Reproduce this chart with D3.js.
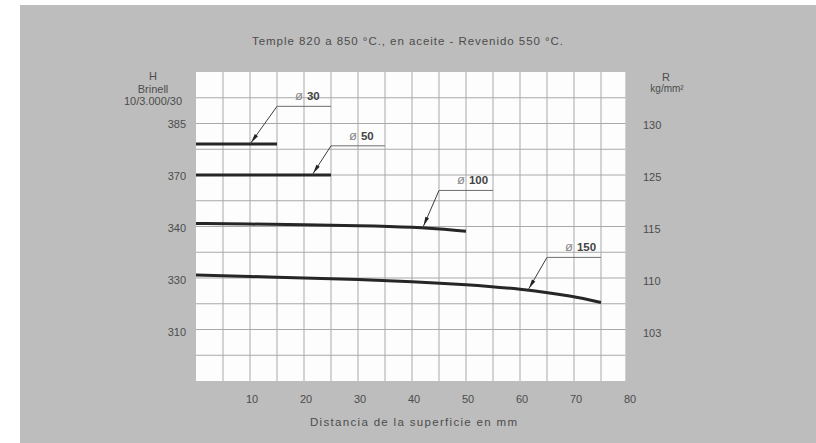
<!DOCTYPE html>
<html>
<head>
<meta charset="utf-8">
<script src="https://cdn.jsdelivr.net/npm/d3@7"></script>
<style>
  html, body { margin: 0; padding: 0; background: #fff; }
  svg text { font-family: "Liberation Sans", Arial, sans-serif; fill: #4c4c4c; }
</style>
</head>
<body>
<svg id="chart" width="816" height="443"></svg>
<script>
// tick labels
const xTicks = [10, 20, 30, 40, 50, 60, 70, 80];
const hbTicks = [385, 370, 340, 330, 310];   // left axis, Brinell
const rTicks = [130, 125, 115, 110, 103];    // right axis, kg/mm2

// curves: distance from surface (mm) vs hardness (HB)
const d30Mm = [0, 15];
const d30Hb = [379, 379];
const d50Mm = [0, 25];
const d50Hb = [370, 370];
const d100Mm = [0, 10, 20, 30, 40, 50];
const d100Hb = [341.75, 341.45, 341, 340.5, 339.95, 339.1];
const d150Mm = [0, 10, 20, 30, 40, 50, 60, 70, 75];
const d150Hb = [330.6, 330.3, 330, 329.4, 328.65, 327.5, 325.8, 322.9, 320.5];

// diameter labels and their leaders
const noteLabels = ['30', '50', '100', '150'];
const noteTipMm = [10, 21.5, 42, 61.5];
const noteElbowMm = [15, 25, 45, 65];
const noteElbowHb = [390, 378.5, 361, 334];
const noteEndMm = [25, 35, 55, 75];

const svg = d3.select('#chart');

// scanned page background
svg.append('rect').attr('x', 20).attr('y', 5).attr('width', 796).attr('height', 438).attr('fill', '#bdbdbd');

const plotLeft = 196, plotTop = 72, plotBottom = 381;
const rows = 12;
const x = d3.scaleLinear().domain([0, 80]).range([plotLeft, plotLeft + 432]);
const rowY = d3.scaleLinear().domain([0, rows]).range([plotTop, plotBottom]);
// labelled rows are every second grid line: a piecewise scale in HB
const y = d3.scaleLinear().domain(hbTicks).range(hbTicks.map((d, i) => rowY(2 + 2 * i)));

const plotRight = x(79.5);

svg.append('rect')
    .attr('x', plotLeft).attr('y', plotTop)
    .attr('width', plotRight - plotLeft).attr('height', plotBottom - plotTop)
    .attr('fill', '#fdfdfd');

// grid
const grid = svg.append('g').attr('stroke', '#a9a9a9').attr('stroke-width', 1);
d3.range(5, 80, 5).forEach(v => {
    grid.append('line')
        .attr('x1', x(v)).attr('x2', x(v))
        .attr('y1', plotTop).attr('y2', plotBottom);
});
d3.range(1, rows).forEach(r => {
    grid.append('line')
        .attr('x1', plotLeft).attr('x2', plotRight)
        .attr('y1', rowY(r)).attr('y2', rowY(r));
});

// axis labels
xTicks.forEach(v => {
    svg.append('text')
        .attr('x', x(v) + 2).attr('y', 403)
        .attr('text-anchor', 'middle')
        .style('font-size', '11px')
        .text(v);
});
hbTicks.forEach((v, i) => {
    svg.append('text')
        .attr('x', 186).attr('y', rowY(2 + 2 * i) + 4 + i * 0.6)
        .attr('text-anchor', 'end')
        .style('font-size', '11px')
        .text(v);
});
rTicks.forEach((v, i) => {
    svg.append('text')
        .attr('x', 643).attr('y', rowY(2 + 2 * i) + 5 + i * 0.6)
        .style('font-size', '11px')
        .text(v);
});

// headers
[['H', 80], ['Brinell', 93], ['10/3.000/30', 105]].forEach(([t, yy]) => {
    svg.append('text').attr('x', 153).attr('y', yy)
        .attr('text-anchor', 'middle').style('font-size', '11px').text(t);
});
svg.append('text').attr('x', 666).attr('y', 81)
    .attr('text-anchor', 'middle').style('font-size', '11px').text('R');
svg.append('text').attr('x', 667).attr('y', 92)
    .attr('text-anchor', 'middle').style('font-size', '10px').text('kg/mm²');

svg.append('text')
    .attr('x', 252).attr('y', 45)
    .attr('textLength', 311).attr('lengthAdjust', 'spacing')
    .style('font-size', '11.5px')
    .text('Temple 820 a 850 °C., en aceite - Revenido 550 °C.');

svg.append('text')
    .attr('x', 310).attr('y', 426)
    .attr('textLength', 207).attr('lengthAdjust', 'spacing')
    .style('font-size', '11.5px')
    .text('Distancia de la superficie en mm');

// curves
const line = d3.line().x(d => x(d[0])).y(d => y(d[1])).curve(d3.curveBasis);
const series = [[d30Mm, d30Hb], [d50Mm, d50Hb], [d100Mm, d100Hb], [d150Mm, d150Hb]];
series.forEach(([mm, hb]) => {
    svg.append('path')
        .datum(d3.zip(mm, hb))
        .attr('d', line)
        .attr('fill', 'none')
        .attr('stroke', '#262626')
        .attr('stroke-width', 3);
});

// leaders with arrowheads
const curveAt = series.map(([mm, hb]) => d3.scaleLinear().domain(mm).range(hb));

noteLabels.forEach((lab, i) => {
    const tx = x(noteTipMm[i]), ty = y(curveAt[i](noteTipMm[i]));
    const ex = x(noteElbowMm[i]), ey = y(noteElbowHb[i]);
    const endX = x(noteEndMm[i]);

    svg.append('line')
        .attr('x1', tx).attr('y1', ty).attr('x2', ex).attr('y2', ey)
        .attr('stroke', '#3c3c3c')
        .attr('stroke-width', 1);
    svg.append('line')
        .attr('x1', ex).attr('y1', ey).attr('x2', endX).attr('y2', ey)
        .attr('stroke', '#6e6e6e')
        .attr('stroke-width', 1);

    const len = Math.hypot(ex - tx, ey - ty);
    const ux = (ex - tx) / len, uy = (ey - ty) / len;
    const px = -uy, py = ux;
    const a0 = [tx + ux * 2, ty + uy * 2];
    const b = [tx + ux * 11, ty + uy * 11];
    svg.append('polygon')
        .attr('points', [a0, [b[0] + px * 2, b[1] + py * 2], [b[0] - px * 2, b[1] - py * 2]]
            .map(p => p.join(',')).join(' '))
        .attr('fill', '#222');

    const t = svg.append('text')
        .attr('x', ex + 18).attr('y', ey - 6);
    t.append('tspan')
        .style('font-size', '13px')
        .style('fill', '#8c8c8c')
        .text('ø');
    t.append('tspan').attr('dx', 4)
        .style('font-size', '11.5px')
        .style('font-weight', 'bold')
        .style('fill', '#444444')
        .text(lab);
});
</script>
</body>
</html>
